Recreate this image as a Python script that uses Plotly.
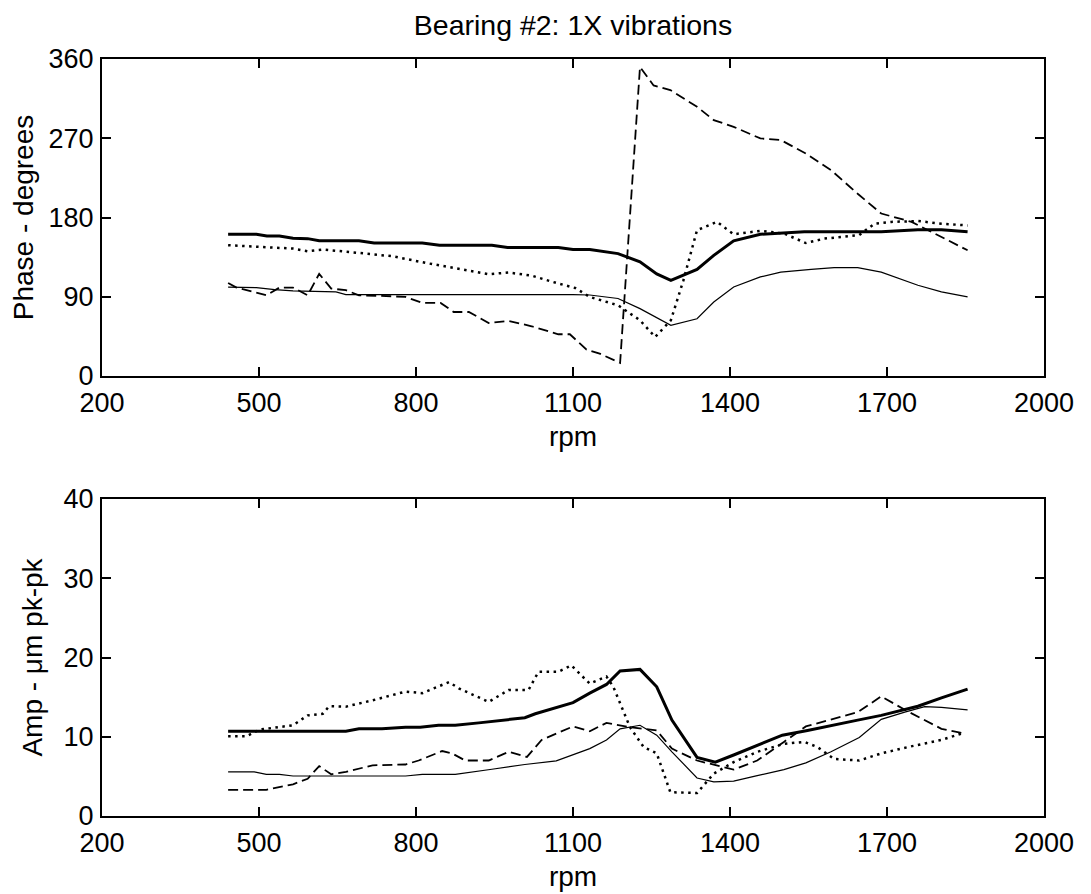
import plotly.graph_objects as go

# ---------------- data ----------------
# Phase (degrees) vs rpm
ph_thick_rpm = [441, 495, 515, 539, 565, 593, 615, 691, 720, 812, 845, 945, 975, 1072, 1100, 1132,
                1186, 1228, 1260, 1287, 1337, 1369, 1407, 1458, 1542, 1644, 1689, 1759, 1804, 1854]
ph_thick = [161, 161, 159, 159, 156.5, 156, 153.5, 153.5, 151, 151, 148.5, 148.5, 146, 146, 143.6, 143.6,
            139, 129.6, 116, 108.7, 121, 137, 153.5, 161, 163.7, 163.7, 163.7, 166, 166, 163.7]

ph_thin_rpm = [441, 495, 530, 565, 647, 666, 1100, 1132, 1186, 1228, 1287, 1337, 1369, 1407, 1458,
               1497, 1555, 1599, 1644, 1689, 1759, 1804, 1854]
ph_thin = [101, 100.4, 98, 96.6, 95.5, 92.5, 92.5, 92, 88, 76.5, 57.6, 65, 84, 101, 112.5,
           118, 121, 123, 123, 118, 103, 95.5, 89.8]

ph_dot_rpm = [441, 565, 593, 622, 691, 755, 818, 882, 939, 977, 1021, 1068, 1104, 1132, 1186, 1228,
              1257, 1287, 1311, 1337, 1375, 1407, 1458, 1503, 1545, 1580, 1647, 1676, 1708, 1759,
              1804, 1854]
ph_dot = [148.5, 144.7, 141.7, 143.6, 139.8, 136, 128.5, 122, 115.6, 117.5, 114, 105.7, 100, 89.8, 80.3, 63.3,
          44.3, 63.3, 108.7, 165.6, 175, 161, 164.8, 161.8, 151, 156, 160, 173, 175, 176,
          173, 171]

ph_dash_rpm = [441, 457, 514, 539, 565, 593, 615, 638, 666, 691, 755, 780, 812, 847, 872, 901, 939,
               977, 1021, 1072, 1094, 1126, 1151, 1190, 1228, 1254, 1286, 1337, 1369, 1407, 1458,
               1497, 1545, 1593, 1644, 1689, 1747, 1804, 1854]
ph_dash = [105.7, 100.4, 91.7, 100.4, 100.4, 91.7, 116, 99.3, 97.4, 91.7, 90.5, 89.8, 83, 83, 72.7, 72.7, 60.2,
           62.5, 56.5, 47.4, 47.4, 30, 25.4, 14.8, 351, 330, 324.7, 305.8, 290.6, 283, 269.8,
           268, 252.7, 233.8, 207, 184.5, 175, 158, 142.8]

# Amplitude (um pk-pk) vs rpm
am_thick_rpm = [441, 666, 691, 735, 780, 808, 843, 875, 920, 945, 1008, 1028, 1068, 1100, 1132, 1164,
                1190, 1228, 1260, 1289, 1337, 1372, 1407, 1452, 1500, 1548, 1599, 1644, 1689, 1734,
                1759, 1804, 1854]
am_thick = [10.7, 10.7, 11.0, 11.0, 11.2, 11.2, 11.45, 11.45, 11.75, 11.96, 12.4, 12.9, 13.7, 14.3, 15.5, 16.6,
            18.3, 18.5, 16.3, 12.1, 7.4, 6.8, 7.7, 8.9, 10.2, 10.8, 11.45, 12.1, 12.7, 13.4,
            13.85, 14.9, 16.0]

am_thin_rpm = [441, 491, 514, 539, 565, 780, 812, 875, 945, 1008, 1068, 1132, 1164, 1190, 1228, 1260,
               1289, 1337, 1369, 1407, 1452, 1503, 1545, 1593, 1647, 1689, 1734, 1772, 1804, 1854]
am_thin = [5.56, 5.56, 5.26, 5.26, 5.05, 5.05, 5.26, 5.26, 5.9, 6.5, 6.95, 8.5, 9.6, 11.0, 11.45, 10.2,
           8.1, 4.8, 4.3, 4.4, 5.1, 5.85, 6.7, 8.1, 9.9, 12.2, 13.1, 13.8, 13.7, 13.4]

am_dot_rpm = [441, 476, 501, 565, 593, 622, 634, 666, 717, 780, 812, 863, 882, 939, 977, 1015, 1034,
              1072, 1097, 1132, 1164, 1177, 1209, 1235, 1260, 1286, 1337, 1369, 1407, 1452, 1503,
              1542, 1567, 1599, 1647, 1689, 1740, 1804, 1842]
am_dot = [10.06, 10.06, 10.9, 11.45, 12.7, 12.9, 13.85, 13.8, 14.6, 15.7, 15.5, 16.9, 16.1, 14.4, 15.9, 15.9, 18.2,
          18.2, 19.0, 16.7, 17.6, 16.3, 11.2, 8.7, 7.9, 3.0, 2.9, 5.35, 6.8, 8.1, 9.1,
          9.35, 8.7, 7.2, 7.0, 7.9, 8.7, 9.6, 10.4]

am_dash_rpm = [441, 514, 565, 593, 615, 638, 666, 717, 780, 805, 850, 869, 894, 939, 977, 1012, 1040,
               1068, 1100, 1132, 1164, 1209, 1260, 1289, 1337, 1407, 1452, 1503, 1545, 1644, 1689,
               1734, 1804, 1848]
am_dash = [3.3, 3.3, 4.0, 4.7, 6.3, 5.26, 5.56, 6.4, 6.5, 7.0, 8.2, 7.9, 7.0, 7.0, 8.1, 7.45, 9.6,
           10.4, 11.3, 10.7, 11.75, 11.2, 10.8, 8.5, 7.0, 5.85, 7.0, 9.35, 11.3, 13.1, 15.1,
           13.4, 11.0, 10.4]

x_ticks = [200, 500, 800, 1100, 1400, 1700, 2000]
ph_ticks = [0, 90, 180, 270, 360]
am_ticks = [0, 10, 20, 30, 40]

title_text = "Bearing #2: 1X vibrations"
x_label = "rpm"
ph_label = "Phase - degrees"
am_label = "Amp - μm pk-pk"

# ---------------- styles ----------------
FONT = "Liberation Sans, Arial, Helvetica, sans-serif"
styles = {
    "thick": dict(color="black", width=3),
    "thin": dict(color="black", width=1.2),
    "dot": dict(color="black", width=2.5, dash="2.5px,4.5px"),
    "dash": dict(color="black", width=1.8, dash="10px,5px"),
}

fig = go.Figure()

def add(xs, ys, style, xa, ya):
    fig.add_trace(go.Scatter(x=xs, y=ys, mode="lines", line=styles[style],
                             xaxis=xa, yaxis=ya, showlegend=False, hoverinfo="skip"))

# top: phase
add(ph_thin_rpm, ph_thin, "thin", "x", "y")
add(ph_dash_rpm, ph_dash, "dash", "x", "y")
add(ph_dot_rpm, ph_dot, "dot", "x", "y")
add(ph_thick_rpm, ph_thick, "thick", "x", "y")
# bottom: amplitude
add(am_thin_rpm, am_thin, "thin", "x2", "y2")
add(am_dash_rpm, am_dash, "dash", "x2", "y2")
add(am_dot_rpm, am_dot, "dot", "x2", "y2")
add(am_thick_rpm, am_thick, "thick", "x2", "y2")

# page has an 8px body margin: figure coordinates = page coordinates - 8
OFF = 8
W, H = 1091 - OFF, 894 - OFF
L = 102 - OFF
R = W - (1044 - OFF)
T = 59 - OFF
ph_top, ph_bot = 59 - OFF, 376 - OFF
am_top, am_bot = 499 - OFF, 816 - OFF
B = H - am_bot
plot_h = H - T - B

def dom(top_px, bot_px):
    return [((H - B) - bot_px) / plot_h, ((H - B) - top_px) / plot_h]

common_axis = dict(showline=True, linewidth=2, linecolor="black", mirror="ticks",
                   ticks="inside", ticklen=9, tickwidth=1.5, tickcolor="black",
                   showgrid=False, zeroline=False,
                   tickfont=dict(family=FONT, size=27, color="black"))

xax = dict(common_axis, range=[200, 2000], tickmode="array", tickvals=x_ticks,
           ticktext=[str(v) for v in x_ticks], ticklabelstandoff=2,
           title=dict(text=x_label, font=dict(family=FONT, size=28, color="black"), standoff=9))

fig.update_layout(
    width=W, height=H,
    margin=dict(l=L, r=R, t=T, b=B, autoexpand=False),
    paper_bgcolor="white", plot_bgcolor="white",
    title=dict(text=title_text, font=dict(family=FONT, size=28.5, color="black"),
               x=(L + (W - R)) / 2 / W, xanchor="center", xref="container",
               y=1 - 17 / H, yanchor="middle", yref="container"),
    xaxis=dict(xax, domain=[0, 1], anchor="y"),
    xaxis2=dict(xax, domain=[0, 1], anchor="y2"),
    yaxis=dict(common_axis, range=[0, 360], tickmode="array", tickvals=ph_ticks,
               domain=dom(ph_top, ph_bot), anchor="x", ticklabelstandoff=1,
               title=dict(text=ph_label, font=dict(family=FONT, size=28, color="black"), standoff=13)),
    yaxis2=dict(common_axis, range=[0, 40], tickmode="array", tickvals=am_ticks,
                domain=dom(am_top, am_bot), anchor="x2", ticklabelstandoff=1,
                title=dict(text=am_label, font=dict(family=FONT, size=28, color="black"), standoff=13)),
)

fig.write_html("out.html")
